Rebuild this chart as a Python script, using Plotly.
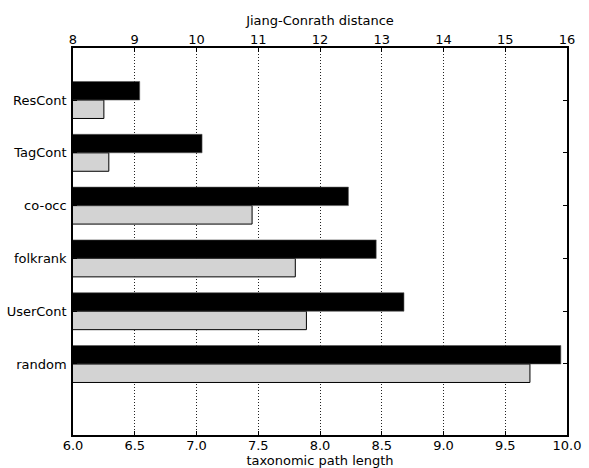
import plotly.graph_objects as go

categories = ["ResCont", "TagCont", "co-occ", "folkrank", "UserCont", "random"]
jc_distance = [9.08, 10.09, 12.46, 12.91, 13.36, 15.90]      # black bars, top axis
path_length = [6.25, 6.29, 7.45, 7.80, 7.89, 9.70]           # grey bars, bottom axis

n = len(categories)
ypos = list(range(n - 1, -1, -1))
bar_h = 0.35

FONT = "DejaVu Sans"

fig = go.Figure()
fig.add_trace(go.Bar(
    x=path_length, y=ypos, orientation="h",
    width=bar_h, offset=-bar_h,
    marker=dict(color="#d3d3d3", line=dict(color="black", width=1)),
    xaxis="x", yaxis="y", showlegend=False,
))
fig.add_trace(go.Bar(
    x=jc_distance, y=ypos, orientation="h",
    width=bar_h, offset=0,
    marker=dict(color="black", line=dict(color="#555", width=0.6)),
    xaxis="x2", yaxis="y", showlegend=False,
))

fig.update_layout(
    width=589, height=468,
    margin=dict(l=73, r=22, t=48, b=33),
    paper_bgcolor="white", plot_bgcolor="white",
    font=dict(family=FONT, size=13, color="black"),
    barmode="overlay",
    xaxis=dict(
        range=[6, 10], tickvals=[6, 6.5, 7, 7.5, 8, 8.5, 9, 9.5, 10],
        ticktext=["6.0", "6.5", "7.0", "7.5", "8.0", "8.5", "9.0", "9.5", "10.0"],
        ticks="inside", ticklen=4, tickcolor="black", ticklabelstandoff=-2,
        showline=True, linecolor="black", linewidth=1.5,
        showgrid=True, gridcolor="#222", gridwidth=1, griddash="1px,2px",
        zeroline=False,
        title=dict(text="taxonomic path length", standoff=4, font=dict(size=13)),
        automargin=False,
    ),
    xaxis2=dict(
        range=[8, 16], tickvals=list(range(8, 17)),
        overlaying="x", side="top", anchor="y",
        ticks="inside", ticklen=4, tickcolor="black", ticklabelstandoff=-3,
        showline=True, linecolor="black", linewidth=1.5,
        showgrid=False, zeroline=False,
        title=dict(text="Jiang-Conrath distance", standoff=3, font=dict(size=13)),
        automargin=False,
    ),
    yaxis=dict(
        range=[-1.345, 5.985], tickvals=ypos, ticktext=categories,
        ticks="inside", ticklen=4, tickcolor="black", ticklabelstandoff=2,
        showline=True, linecolor="black", linewidth=1.5, mirror="ticks",
        showgrid=False, zeroline=False, automargin=False,
    ),
)

fig.write_html("out.html", config={"displayModeBar": False},
               post_script="document.body.style.margin='0';")
